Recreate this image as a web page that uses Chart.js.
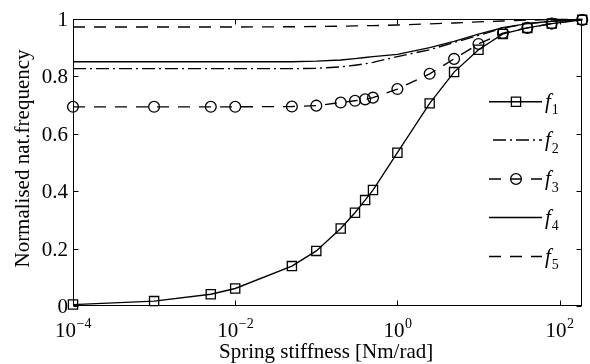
<!DOCTYPE html>
<html>
<head>
<meta charset="utf-8">
<script src="https://cdn.jsdelivr.net/npm/chart.js@4/dist/chart.umd.min.js"></script>
<style>
  html, body { margin: 0; padding: 0; background: #fff; }
  #wrap { width: 590px; height: 364px; position: relative; }
</style>
</head>
<body>
<div id="wrap"><canvas id="c" width="590" height="364"></canvas></div>
<script>
// ---- data ----
const stiffness = [1e-4, 1e-3, 5e-3, 1e-2, 0.05, 0.1, 0.2, 0.3, 0.4, 0.5, 1, 2.5, 5, 10, 20, 40, 80, 190];
const f1 = [0.005, 0.017, 0.041, 0.061, 0.139, 0.192, 0.270, 0.325, 0.369, 0.404, 0.534, 0.706, 0.815, 0.893, 0.948, 0.969, 0.984, 0.997];
const f2 = [0.827, 0.827, 0.827, 0.827, 0.827, 0.828, 0.833, 0.839, 0.844, 0.849, 0.869, 0.893, 0.918, 0.943, 0.968, 0.984, 0.992, 0.998];
const f3 = [0.694, 0.694, 0.694, 0.694, 0.695, 0.698, 0.709, 0.715, 0.720, 0.726, 0.756, 0.809, 0.861, 0.913, 0.951, 0.969, 0.984, 0.997];
const f4 = [0.851, 0.851, 0.851, 0.851, 0.851, 0.853, 0.857, 0.862, 0.866, 0.869, 0.877, 0.900, 0.922, 0.947, 0.970, 0.984, 0.992, 0.998];
const f5 = [0.972, 0.972, 0.972, 0.972, 0.973, 0.974, 0.975, 0.976, 0.977, 0.977, 0.979, 0.983, 0.986, 0.990, 0.993, 0.996, 0.998, 0.999];
const seriesNames = ['1', '2', '3', '4', '5'];
const xTickExponents = [-4, -2, 0, 2];
const yTickValues = [0, 0.2, 0.4, 0.6, 0.8, 1];
const yTickLabels = ['0', '0.2', '0.4', '0.6', '0.8', '1'];
const xTitle = 'Spring stiffness [Nm/rad]';
const yTitle = 'Normalised nat.frequency';

const SERIF = '"Liberation Serif", "DejaVu Serif", serif';
const toPts = ys => stiffness.map((x, i) => ({ x: x, y: ys[i] }));
const LW = 1.35;

const styles = [
  { dash: [], marker: 'rect', r: 6.5 },
  { dash: [13, 4, 2, 4], marker: false, r: 0 },
  { dash: [12, 9], marker: 'circle', r: 5.4 },
  { dash: [], marker: false, r: 0 },
  { dash: [12, 9], marker: false, r: 0 }
];
const allSeries = [f1, f2, f3, f4, f5];

const datasets = allSeries.map((ys, i) => ({
  label: 'f' + seriesNames[i],
  data: toPts(ys),
  borderColor: '#000',
  borderWidth: LW,
  borderDash: styles[i].dash,
  tension: 0,
  fill: false,
  pointStyle: styles[i].marker || 'circle',
  pointRadius: styles[i].r,
  pointHoverRadius: styles[i].r,
  pointBorderColor: '#000',
  pointBorderWidth: 1.3,
  pointBackgroundColor: 'rgba(0,0,0,0)',
  clip: false
}));

const axesPlugin = {
  id: 'matlabAxes',
  afterDraw(chart) {
    const ctx = chart.ctx;
    const xs = chart.scales.x, ys = chart.scales.y;
    const a = chart.chartArea;
    const L = Math.round(a.left) + 0.5, R = Math.round(a.right) - 0.5;
    const T = Math.round(a.top) + 0.5, B = Math.round(a.bottom) - 0.5;
    ctx.save();
    ctx.strokeStyle = '#000';
    ctx.lineWidth = 1;
    ctx.setLineDash([]);
    ctx.strokeRect(L, T, R - L, B - T);
    const tl = 5;
    ctx.beginPath();
    xTickExponents.forEach(e => {
      const px = Math.round(xs.getPixelForValue(Math.pow(10, e))) + 0.5;
      ctx.moveTo(px, B); ctx.lineTo(px, B - tl);
      ctx.moveTo(px, T); ctx.lineTo(px, T + tl);
    });
    yTickValues.forEach(v => {
      const py = Math.round(ys.getPixelForValue(v)) + 0.5;
      ctx.moveTo(L, py); ctx.lineTo(L + tl, py);
      ctx.moveTo(R, py); ctx.lineTo(R - tl, py);
    });
    ctx.stroke();

    // x tick labels 10^e
    ctx.fillStyle = '#000';
    ctx.textBaseline = 'alphabetic';
    ctx.textAlign = 'left';
    xTickExponents.forEach(e => {
      const px = xs.getPixelForValue(Math.pow(10, e));
      const sup = (e < 0 ? '\u2212' : '') + Math.abs(e);
      ctx.font = '21px ' + SERIF;
      const w1 = ctx.measureText('10').width;
      ctx.font = '14px ' + SERIF;
      const w2 = ctx.measureText(sup).width;
      const x0 = px - (w1 + w2) / 2;
      ctx.font = '21px ' + SERIF;
      ctx.fillText('10', x0, 337);
      ctx.font = '14px ' + SERIF;
      ctx.fillText(sup, x0 + w1 + 0.5, 328);
    });
    // y tick labels
    ctx.font = '21px ' + SERIF;
    ctx.textAlign = 'right';
    ctx.textBaseline = 'middle';
    yTickValues.forEach((v, i) => {
      const py = ys.getPixelForValue(v);
      ctx.fillText(yTickLabels[i], a.left - 5, py + 1.5);
    });
    // axis titles
    ctx.textAlign = 'center';
    ctx.textBaseline = 'alphabetic';
    ctx.fillText(xTitle, (a.left + a.right) / 2 - 1.5, 358);
    ctx.save();
    ctx.translate(29, (a.top + a.bottom) / 2 - 4);
    ctx.rotate(-Math.PI / 2);
    ctx.fillText(yTitle, 0, 0);
    ctx.restore();

    // legend
    const lx0 = 489, lx1 = 542, mx = 516;
    const rowY = [101.7, 140, 179, 217.5, 256.5];
    chart.data.datasets.forEach((ds, i) => {
      const y = rowY[i];
      ctx.beginPath();
      ctx.strokeStyle = '#000';
      ctx.lineWidth = LW;
      ctx.setLineDash(styles[i].dash);
      ctx.lineDashOffset = i === 1 ? 19 : 0;
      ctx.moveTo(lx0, y); ctx.lineTo(lx1, y);
      ctx.stroke();
      ctx.setLineDash([]);
      ctx.lineDashOffset = 0;
      if (styles[i].marker) {
        ctx.lineWidth = 1.3;
        ctx.fillStyle = 'rgba(0,0,0,0)';
        Chart.helpers.drawPoint(ctx, { pointStyle: styles[i].marker, radius: styles[i].r, rotation: 0, borderWidth: 1.3 }, mx, y);
      }
      ctx.fillStyle = '#000';
      ctx.textAlign = 'left';
      ctx.font = 'italic 21px ' + SERIF;
      ctx.fillText('f', 545, y + 6);
      const wf = ctx.measureText('f').width;
      ctx.font = '14px ' + SERIF;
      ctx.fillText(seriesNames[i], 545 + wf + 1, y + 12.5);
    });
    ctx.restore();
  }
};

new Chart(document.getElementById('c'), {
  type: 'line',
  data: { datasets: datasets },
  options: {
    responsive: false,
    animation: false,
    devicePixelRatio: 1,
    layout: { padding: { left: 73, right: 2, top: 19, bottom: 58 } },
    plugins: { legend: { display: false }, tooltip: { enabled: false } },
    scales: {
      x: {
        type: 'logarithmic', min: 1e-4, max: 190,
        ticks: { display: false },
        grid: { display: false, drawTicks: false },
        border: { display: false }
      },
      y: {
        type: 'linear', min: 0, max: 1,
        ticks: { display: false },
        grid: { display: false, drawTicks: false },
        border: { display: false }
      }
    }
  },
  plugins: [axesPlugin]
});
</script>
</body>
</html>
